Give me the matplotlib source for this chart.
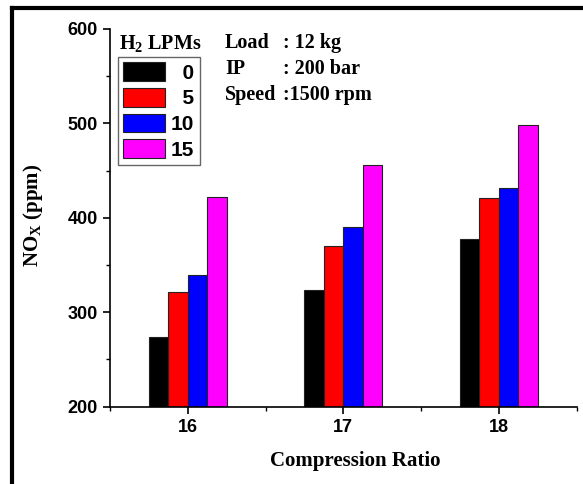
import numpy as np
import matplotlib.pyplot as plt
from matplotlib.lines import Line2D
from matplotlib.ticker import MultipleLocator

# data
compression_ratio = [16, 17, 18]
h2_lpm = ['0', '5', '10', '15']
nox_0 = [274, 324, 378]
nox_5 = [321, 370, 421]
nox_10 = [340, 390, 432]
nox_15 = [422, 456, 498]

colors = ['#000000', '#ff0000', '#0000ff', '#ff00ff']

plt.rcParams['mathtext.fontset'] = 'custom'
plt.rcParams['mathtext.rm'] = 'Liberation Serif:bold'
plt.rcParams['mathtext.it'] = 'Liberation Serif:bold'
plt.rcParams['mathtext.bf'] = 'Liberation Serif:bold'

sans = 'Liberation Sans'
serif = 'Liberation Serif'

fig = plt.figure(figsize=(5.83, 4.84), dpi=100)
W, H = 583, 484
ax = fig.add_axes([110 / W, 1 - 406.7 / H, (576.7 - 110) / W, (406.7 - 29) / H])

width = 0.125
x = np.array(compression_ratio, dtype=float)
series = [nox_0, nox_5, nox_10, nox_15]
for i, (vals, c, lab) in enumerate(zip(series, colors, h2_lpm)):
    offset = (i - 1.5) * width
    # pad one-digit labels with two spaces (= one digit) so they line up right
    ax.bar(x + offset, np.array(vals) - 200, width, bottom=200, color=c,
           edgecolor='#222222', linewidth=0.8, label=lab.rjust(2).replace(' ', '  '))

ax.set_xlim(15.5, 18.5)
ax.set_ylim(200, 600)
ax.set_xticks(compression_ratio)
ax.xaxis.set_minor_locator(MultipleLocator(0.5))
ax.yaxis.set_major_locator(MultipleLocator(100))
ax.yaxis.set_minor_locator(MultipleLocator(50))

for s in ['top', 'right']:
    ax.spines[s].set_visible(False)
for s in ['left', 'bottom']:
    ax.spines[s].set_linewidth(1.2)

ax.tick_params(which='major', direction='out', length=5, width=1.2, pad=4)
ax.tick_params(which='minor', direction='out', length=3, width=1.0)
for t in ax.get_xticklabels() + ax.get_yticklabels():
    t.set_fontfamily(sans)
    t.set_fontweight('bold')
    t.set_fontsize(13)

fig.text(355 / W, 1 - 461 / H, 'Compression Ratio', family=serif, weight='bold',
         fontsize=15, ha='center', va='center')
fig.text(33 / W, 1 - 215 / H, r'NO$_\mathrm{X}$ (ppm)', family=serif, weight='bold',
         fontsize=15, ha='center', va='center', rotation=90)

# legend: title drawn as separate text above the frame
fig.text(160 / W, 1 - 43 / H, r'H$_\mathrm{2}$ LPMs', family=serif, weight='bold',
         fontsize=14.5, ha='center', va='center')
leg = ax.legend(loc='upper left', bbox_to_anchor=(118 / W, 1 - 57 / H),
                bbox_transform=fig.transFigure, borderaxespad=0,
                prop={'family': sans, 'weight': 'bold', 'size': 15},
                handlelength=2.0, handleheight=1.0, labelspacing=0.25,
                handletextpad=0.3, borderpad=0.25, fancybox=False,
                framealpha=1, edgecolor='#666666')
leg.get_frame().set_linewidth(1.0)

# operating conditions
info_keys = ['Load', 'IP', 'Speed']
info_vals = [': 12 kg', ': 200 bar', ':1500 rpm']
for k, (key, val) in enumerate(zip(info_keys, info_vals)):
    yy = 1 - (43 + k * 26) / H
    fig.text(225 / W, yy, key, family=serif, weight='bold', fontsize=14.5, va='center')
    fig.text(283 / W, yy, val, family=serif, weight='bold', fontsize=14.5, va='center')

# outer frame (left and top edges visible in the reference)
fig.add_artist(Line2D([12 / W, 12 / W], [0, 1 - 8 / H], color='black', lw=3,
                      transform=fig.transFigure))
fig.add_artist(Line2D([12 / W, 1], [1 - 8 / H, 1 - 8 / H], color='black', lw=3,
                      transform=fig.transFigure))

fig.savefig('out.png', dpi=100)
